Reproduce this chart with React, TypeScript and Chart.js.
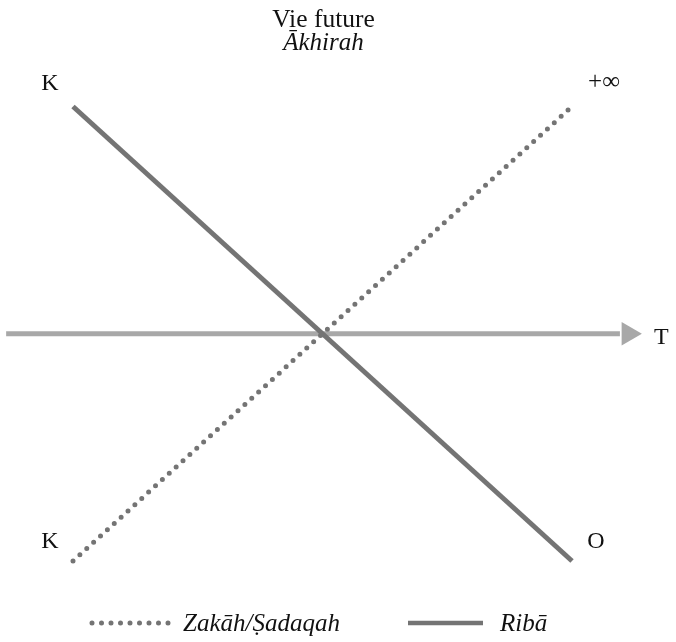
import React, { useEffect, useRef } from "react";
import { Chart, registerables } from "chart.js";

Chart.register(...registerables);

// ---- data ----
const seriesLabels = ["Zakāh/Ṣadaqah", "Ribā"];
const timePoints = [0, 10];
const zakahValues = [-5, 5];
const ribaValues = [5, -5];
const zakahEndLabels = ["K", "+∞"];
const ribaEndLabels = ["K", "O"];
const timeAxisShaft = [-1.34, 10.96];
const timeAxisArrow = [11.13];
const timeAxisLabel = "T";
const titleLines = ["Vie future", "Ākhirah"];

const LINE_COLOR = "#747474";
const AXIS_COLOR = "#a8a8a8";
const SERIF = "'Liberation Serif', 'Times New Roman', serif";

const textPlugin = {
  id: "textPlugin",
  afterDraw(chart: any) {
    const ctx = chart.ctx as CanvasRenderingContext2D;
    const xs = chart.scales.x;
    const ys = chart.scales.y;
    const px = (v: number) => xs.getPixelForValue(v);
    const py = (v: number) => ys.getPixelForValue(v);
    ctx.save();
    ctx.fillStyle = "#111";
    ctx.textAlign = "center";
    ctx.textBaseline = "alphabetic";

    // titles
    ctx.font = `25.5px ${SERIF}`;
    ctx.fillText(titleLines[0], 323.5, 27);
    ctx.font = `italic 25px ${SERIF}`;
    ctx.fillText(titleLines[1], 323.5, 50);

    // endpoint labels
    ctx.font = `24px ${SERIF}`;
    ctx.fillText(ribaEndLabels[0], px(timePoints[0]) - 23, py(ribaValues[0]) - 16);
    ctx.fillText(ribaEndLabels[1], px(timePoints[1]) + 24, py(ribaValues[1]) - 13);
    ctx.fillText(zakahEndLabels[0], px(timePoints[0]) - 23, py(zakahValues[0]) - 13);
    ctx.font = `25px ${SERIF}`;
    ctx.fillText(zakahEndLabels[1], px(timePoints[1]) + 32, py(zakahValues[1]) - 17);
    ctx.font = `24px ${SERIF}`;
    ctx.fillText(timeAxisLabel, px(timeAxisArrow[0]) + 33, py(0) + 10);

    // legend
    const ly = 623;
    ctx.lineWidth = 5;
    ctx.strokeStyle = LINE_COLOR;
    ctx.lineCap = "round";
    ctx.setLineDash([0, 9.5]);
    ctx.beginPath();
    ctx.moveTo(92, ly);
    ctx.lineTo(170, ly);
    ctx.stroke();
    ctx.setLineDash([]);
    ctx.lineCap = "butt";
    ctx.lineWidth = 4.5;
    ctx.beginPath();
    ctx.moveTo(408, ly);
    ctx.lineTo(483, ly);
    ctx.stroke();

    ctx.textAlign = "left";
    ctx.font = `italic 25px ${SERIF}`;
    ctx.fillText(seriesLabels[0], 183, 631);
    ctx.fillText(seriesLabels[1], 500, 631);
    ctx.restore();
  },
};

export default function App() {
  const ref = useRef<HTMLCanvasElement>(null);

  useEffect(() => {
    if (!ref.current) return;
    const chart = new Chart(ref.current, {
      type: "scatter",
      data: {
        datasets: [
          {
            label: seriesLabels[0],
            data: timePoints.map((t, i) => ({ x: t, y: zakahValues[i] })),
            showLine: true,
            borderColor: LINE_COLOR,
            backgroundColor: LINE_COLOR,
            borderWidth: 5,
            borderDash: [0, 9.3],
            borderCapStyle: "round",
            pointRadius: 0,
            order: 1,
          },
          {
            label: seriesLabels[1],
            data: timePoints.map((t, i) => ({ x: t, y: ribaValues[i] })),
            showLine: true,
            borderColor: LINE_COLOR,
            backgroundColor: LINE_COLOR,
            borderWidth: 5,
            borderCapStyle: "butt",
            pointRadius: 0,
            order: 0,
          },
          {
            label: "T",
            data: timeAxisShaft.map((t) => ({ x: t, y: 0 })),
            showLine: true,
            borderColor: AXIS_COLOR,
            backgroundColor: AXIS_COLOR,
            borderWidth: 5,
            borderCapStyle: "butt",
            pointRadius: 0,
            order: 3,
          },
          {
            label: "arrow",
            data: timeAxisArrow.map((t) => ({ x: t, y: 0 })),
            showLine: false,
            pointStyle: "triangle",
            rotation: 90,
            pointRadius: 13.5,
            borderWidth: 0,
            backgroundColor: AXIS_COLOR,
            borderColor: AXIS_COLOR,
            order: 3,
          } as any,
        ],
      },
      options: {
        animation: false,
        responsive: false,
        maintainAspectRatio: false,
        layout: { padding: 0, autoPadding: false },
        events: [],
        plugins: {
          legend: { display: false },
          tooltip: { enabled: false },
          title: { display: false },
        },
        scales: {
          x: { type: "linear", display: false, min: -1.463, max: 12.084 },
          y: { type: "linear", display: false, min: -6.782, max: 7.343 },
        },
      },
      plugins: [textPlugin],
    });
    return () => chart.destroy();
  }, []);

  return (
    <div style={{ position: "absolute", left: 0, top: 0, width: 676, height: 642, background: "#fff" }}>
      <canvas ref={ref} width={676} height={642} style={{ display: "block" }} />
    </div>
  );
}
